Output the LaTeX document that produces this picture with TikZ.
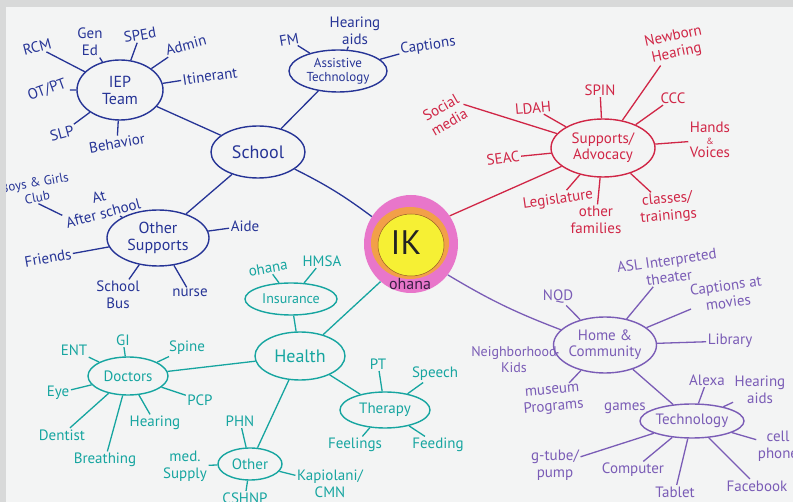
\documentclass[tikz,border=0pt]{standalone}
\usepackage{fontspec}
\setmainfont{PT Sans}
\usetikzlibrary{shapes.geometric}
\definecolor{mblue}{RGB}{38,52,150}
\definecolor{mred}{RGB}{208,38,70}
\definecolor{mpurple}{RGB}{122,92,182}
\definecolor{mteal}{RGB}{22,165,160}
\definecolor{mpink}{RGB}{232,118,202}
\definecolor{morange}{RGB}{242,160,72}
\definecolor{myellow}{RGB}{246,240,52}
\definecolor{bgc}{RGB}{243,244,244}
\definecolor{edgec}{RGB}{216,217,217}
\begin{document}
\begin{tikzpicture}[x=1pt,y=-1pt,
  hub/.style={ellipse, draw, line width=1.4pt, inner sep=0pt, align=center},
  lbl/.style={inner sep=1.5pt, align=center, font=\fontsize{15}{17}\selectfont},
  spoke/.style={line width=1.3pt},
  fs/.style={font=\fontsize{#1}{#1}\selectfont}]
\useasboundingbox (0,0) rectangle (793,502);
\fill[bgc] (0,0) rectangle (793,502);

% ---------- centre ----------
\node[ellipse, fill=mpink, minimum width=94pt, minimum height=98pt, inner sep=0pt] (pinkc) at (411,244) {};
\node[ellipse, fill=morange, minimum width=78pt, minimum height=72pt, inner sep=0pt] (orc) at (410,243) {};
\node[ellipse, fill=myellow, draw={rgb,255:red,150;green,90;blue,40}, line width=0.5pt, minimum width=66pt, minimum height=62pt, inner sep=0pt] (yelc) at (411,245) {};
\node[font=\fontsize{34}{36}\selectfont, text={rgb,255:red,35;green,35;blue,35}] (ik) at (406,243) {IK};
\node[fs=16, text={rgb,255:red,60;green,30;blue,70}] (ohana) at (410,284) {ohana};

% ---------- blue : school ----------
\begin{scope}[mblue, text=mblue]
\node[hub, fs=18, minimum width=94pt, minimum height=52pt] (school) at (258,152) {School};
\node[hub, fs=16, minimum width=86pt, minimum height=60pt] (iep) at (120,90) {IEP\\[1pt]Team};
\node[hub, fs=13, minimum width=98pt, minimum height=42pt] (at) at (338,71) {Assistive\\[1pt]Technology};
\node[hub, fs=16, minimum width=102pt, minimum height=56pt] (os) at (158,238) {Other\\[1pt]Supports};

\node[lbl, rotate=15] (rcm) at (37,47) {RCM};
\node[lbl] (gened) at (90,42) {Gen\\Ed};
\node[lbl, rotate=10] (sped) at (140,35) {SPEd};
\node[lbl, rotate=15] (admin) at (186,45) {Admin};
\node[lbl, rotate=8] (itin) at (210,76) {Itinerant};
\node[lbl, rotate=20] (otpt) at (47,90) {OT/PT};
\node[lbl, rotate=15] (slp) at (62,133) {SLP};
\node[lbl, rotate=10] (behav) at (117,143) {Behavior};
\node[lbl, rotate=10] (fm) at (289,40) {FM};
\node[lbl] (hear1) at (355,31) {Hearing\\aids};
\node[lbl, rotate=8] (capt) at (428,46) {Captions};
\node[lbl, rotate=10, font=\fontsize{13}{15}\selectfont] (bgclub) at (36,190) {Boys \& Girls\\Club};
\node[lbl, rotate=15] (asch) at (101,205) {At\\After school};
\node[lbl] (aide) at (245,226) {Aide};
\node[lbl, rotate=10] (friends) at (48,258) {Friends};
\node[lbl] (bus) at (118,295) {School\\Bus};
\node[lbl] (nurse) at (190,293) {nurse};

\draw[spoke] (iep) -- (school);
\draw[spoke] (at) -- (school);
\draw[spoke] (os) -- (school);
\draw[spoke] (school.-25) to[bend left=5] (pinkc.145);
\foreach \n in {rcm,gened,sped,admin,itin,otpt,slp,behav} \draw[spoke] (iep) -- (\n);
\foreach \n in {fm,hear1,capt} \draw[spoke] (at) -- (\n);
\foreach \n in {asch,aide,friends,bus,nurse} \draw[spoke] (os) -- (\n);
\draw[spoke] (bgclub.south) -- (asch.west);
\end{scope}

% ---------- red : supports ----------
\begin{scope}[mred, text=mred]
\node[hub, fs=15, minimum width=104pt, minimum height=58pt] (sa) at (603,148) {Supports/\\[1pt]Advocacy};
\node[lbl, rotate=30] (social) at (445,115) {Social\\media};
\node[lbl, rotate=5] (ldah) at (533,108) {LDAH};
\node[lbl] (spin) at (600,90) {SPIN};
\node[lbl, rotate=12] (newborn) at (675,45) {Newborn\\Hearing};
\node[lbl] (ccc) at (673,98) {CCC};
\node[lbl] (hv) at (710,140) {Hands\\[-5pt]{\fontsize{9}{9}\selectfont\&}\\[-4pt]Voices};
\node[lbl, rotate=8] (seac) at (503,158) {SEAC};
\node[lbl, rotate=8] (legis) at (558,200) {Legislature};
\node[lbl] (ofam) at (596,220) {other\\families};
\node[lbl, rotate=5] (classes) at (668,208) {classes/\\trainings};
\draw[spoke] (pinkc.36) -- (sa);
\draw[spoke] (social.east) -- (sa);
\foreach \n in {ldah,spin,newborn,ccc,hv,seac,legis,ofam,classes} \draw[spoke] (sa) -- (\n);
\end{scope}

% ---------- purple : home & community ----------
\begin{scope}[mpurple, text=mpurple]
\node[hub, fs=15, minimum width=94pt, minimum height=56pt] (hc) at (605,345) {Home \&\\[1pt]Community};
\node[hub, fs=15, minimum width=104pt, minimum height=34pt] (tech) at (692,421) {Technology};
\node[lbl] (nqd) at (558,297) {NQD};
\node[lbl, rotate=8] (asl) at (668,269) {ASL Interpreted\\theater};
\node[lbl, rotate=8] (cam) at (727,294) {Captions at\\movies};
\node[lbl] (lib) at (730,341) {Library};
\node[lbl, font=\fontsize{14}{16}\selectfont] (nk) at (514,360) {Neighborhood\\Kids};
\node[lbl, rotate=5] (mus) at (553,400) {museum\\Programs};
\node[lbl] (games) at (625,408) {games};
\node[lbl] (alexa) at (707,380) {Alexa};
\node[lbl] (hear2) at (760,390) {Hearing\\aids};
\node[lbl] (cell) at (778,446) {cell\\phone};
\node[lbl] (fb) at (757,486) {Facebook};
\node[lbl] (tablet) at (675,492) {Tablet};
\node[lbl] (comp) at (633,470) {Computer};
\node[lbl] (gtube) at (555,465) {g-tube/\\pump};
\draw[spoke] (pinkc.-40) to[bend right=5] (hc);
\draw[spoke] (hc) -- (tech);
\foreach \n in {nqd,asl,cam,lib,nk,mus} \draw[spoke] (hc) -- (\n);
\foreach \n in {games,alexa,hear2,cell,fb,tablet,comp,gtube} \draw[spoke] (tech) -- (\n);
\end{scope}

% ---------- teal : health ----------
\begin{scope}[mteal, text=mteal]
\node[hub, fs=18, minimum width=90pt, minimum height=48pt] (health) at (300,356) {Health};
\node[hub, fs=14, minimum width=92pt, minimum height=32pt] (ins) at (291,299) {Insurance};
\node[hub, fs=15, minimum width=80pt, minimum height=38pt] (doc) at (128,376) {Doctors};
\node[hub, fs=15, minimum width=64pt, minimum height=32pt] (oth) at (250,464) {Other};
\node[hub, fs=15, minimum width=90pt, minimum height=36pt] (ther) at (385,410) {Therapy};
\node[lbl, rotate=10] (ohana2) at (268,268) {ohana};
\node[lbl] (hmsa) at (322,261) {HMSA};
\node[lbl] (ent) at (74,350) {ENT};
\node[lbl] (gi) at (123,340) {GI};
\node[lbl] (spine) at (187,348) {Spine};
\node[lbl] (eye) at (58,393) {Eye};
\node[lbl] (pcp) at (200,400) {PCP};
\node[lbl] (dentist) at (62,435) {Dentist};
\node[lbl] (hear3) at (155,423) {Hearing};
\node[lbl] (breath) at (105,460) {Breathing};
\node[lbl] (phn) at (240,421) {PHN};
\node[lbl] (med) at (185,466) {med.\\Supply};
\node[lbl] (cshnp) at (245,498) {CSHNP};
\node[lbl] (kap) at (330,484) {Kapiolani/\\CMN};
\node[lbl] (pt) at (378,364) {PT};
\node[lbl] (speech) at (435,374) {Speech};
\node[lbl] (feel) at (355,445) {Feelings};
\node[lbl] (feed) at (438,445) {Feeding};
\draw[spoke] (pinkc.-129) -- (health);
\draw[spoke] (ins) -- (health);
\draw[spoke] (doc) -- (health);
\draw[spoke] (oth) -- (health);
\draw[spoke] (ther) -- (health);
\foreach \n in {ohana2,hmsa} \draw[spoke] (ins) -- (\n);
\foreach \n in {ent,gi,spine,eye,pcp,dentist,hear3,breath} \draw[spoke] (doc) -- (\n);
\foreach \n in {phn,med,cshnp,kap} \draw[spoke] (oth) -- (\n);
\foreach \n in {pt,speech,feel,feed} \draw[spoke] (ther) -- (\n);
\end{scope}

% ---------- board edges ----------
\fill[edgec] (0,0) rectangle (793,7);
\fill[edgec] (0,0) rectangle (6,502);
\end{tikzpicture}
\end{document}
